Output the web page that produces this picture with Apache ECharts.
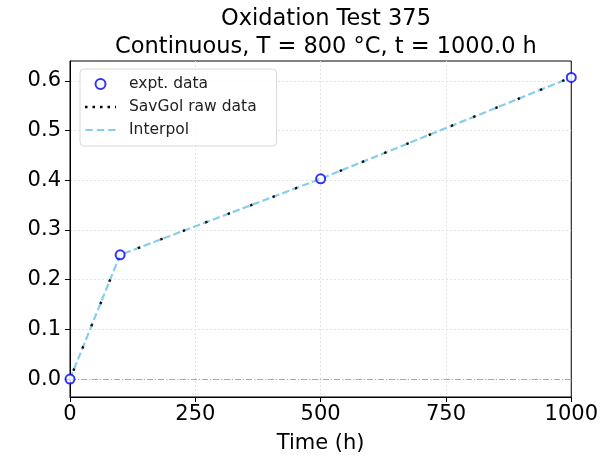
<!DOCTYPE html>
<html>
<head>
<meta charset="utf-8">
<script src="https://cdn.jsdelivr.net/npm/echarts@6/dist/echarts.min.js"></script>
<style>
  html, body { margin: 0; padding: 0; background: #fff; }
  #chart { width: 601px; height: 463px; }
</style>
</head>
<body>
<div id="chart"></div>
<script>
// Measured mass gain over time
const timeH = [0, 100, 500, 1000];
const exptData = [0.0, 0.25, 0.403, 0.607];
// Smoothed (Savitzky-Golay) curve and interpolated curve
const savgolTime = [0, 100, 500, 1000];
const savgolValues = [0.0, 0.25, 0.403, 0.607];
const interpTime = [0, 100, 500, 1000];
const interpValues = [0.0, 0.25, 0.403, 0.607];
const xTicks = [0, 250, 500, 750, 1000];
const yTicks = [0.0, 0.1, 0.2, 0.3, 0.4, 0.5, 0.6];

const FONT = 'DejaVu Sans';
const zip = (xs, ys) => xs.map((x, i) => [x, ys[i]]);

// Legend glyphs: short segments laid out along the handle. The two
// zero-size sub-paths pin the glyph's box to the full handle height so the
// segments are not stretched vertically.
function segmentIcon(len, gap, thick, total) {
  let d = 'M0,-5L0.01,-5Z M0,5L0.01,5Z';
  for (let x = 0; x < total; x += len + gap) {
    const w = Math.min(len, total - x);
    d += ` M${x},${-thick / 2}h${w}v${thick}h${-w}Z`;
  }
  return 'path://' + d;
}

const chart = echarts.init(document.getElementById('chart'), null, { renderer: 'canvas' });

chart.setOption({
  animation: false,
  backgroundColor: '#ffffff',
  title: {
    text: 'Oxidation Test 375\nContinuous, T = 800 °C, t = 1000.0 h',
    left: 321, top: 0, textAlign: 'center',
    textStyle: { fontFamily: FONT, fontSize: 22.5, fontWeight: 'normal', color: '#000', lineHeight: 28 }
  },
  legend: {
    left: 80, top: 69, orient: 'vertical',
    data: [
      { name: 'expt. data' },
      { name: 'SavGol raw data', icon: segmentIcon(2.5, 5, 2.5, 31), itemStyle: { color: '#000' } },
      { name: 'Interpol', icon: segmentIcon(7.4, 4, 2, 31), itemStyle: { color: '#87ceeb' } }
    ],
    itemWidth: 31, itemHeight: 10, itemGap: 7,
    padding: [7, 20, 8, 5],
    backgroundColor: 'rgba(255,255,255,0.8)',
    borderColor: '#d8d8d8', borderWidth: 1, borderRadius: 4,
    textStyle: { fontFamily: FONT, fontSize: 15.5, color: '#222', padding: [0, 0, 0, 8] }
  },
  grid: {
    left: 70, right: 28, top: 61, bottom: 66,
    show: true, borderColor: '#000', borderWidth: 1, backgroundColor: 'transparent'
  },
  xAxis: {
    type: 'value', min: 0, max: 1000, interval: 250,
    name: 'Time (h)', nameLocation: 'middle', nameGap: 36,
    nameTextStyle: { fontFamily: FONT, fontSize: 21, color: '#000' },
    axisLine: { show: true, onZero: false, lineStyle: { color: '#000', width: 1 } },
    axisTick: { show: true, length: 5, lineStyle: { color: '#000' } },
    axisLabel: {
      fontFamily: FONT, fontSize: 21, color: '#000', margin: 7,
      showMinLabel: true, showMaxLabel: true, formatter: v => String(v)
    },
    splitLine: { show: true, showMinLine: false, showMaxLine: false, lineStyle: { color: '#e4e4e4', type: [2, 2], width: 1 } }
  },
  yAxis: {
    type: 'value', min: -0.036, max: 0.64,
    axisLine: { show: true, onZero: false, lineStyle: { color: '#000', width: 1 } },
    axisTick: { show: true, length: 5, customValues: yTicks, lineStyle: { color: '#000' } },
    axisLabel: {
      fontFamily: FONT, fontSize: 21, color: '#000', margin: 9,
      customValues: yTicks, formatter: v => v.toFixed(1)
    },
    splitLine: { show: true, lineStyle: { color: '#e4e4e4', type: [2, 2], width: 1 } }
  },
  series: [
    {
      name: 'expt. data', type: 'scatter', z: 5,
      data: zip(timeH, exptData),
      symbol: 'emptyCircle', symbolSize: 9,
      itemStyle: { color: '#0000ff', borderColor: '#0000ff', borderWidth: 1.5 },
      markLine: {
        silent: true, symbol: 'none', label: { show: false },
        lineStyle: { color: '#aaaaaa', width: 1, type: [6, 2, 1, 2] },
        data: [{ yAxis: 0 }]
      }
    },
    {
      name: 'Interpol', type: 'line', z: 3,
      data: zip(interpTime, interpValues),
      symbol: 'none',
      itemStyle: { color: '#87ceeb' },
      lineStyle: { color: '#87ceeb', width: 2.2, type: [7.4, 3.2] }
    },
    {
      name: 'SavGol raw data', type: 'line', z: 4,
      data: zip(savgolTime, savgolValues),
      symbol: 'none',
      itemStyle: { color: '#000' },
      lineStyle: { color: '#111', width: 2.4, type: [2.4, 21.6], dashOffset: 15 }
    }
  ]
});
</script>
</body>
</html>
